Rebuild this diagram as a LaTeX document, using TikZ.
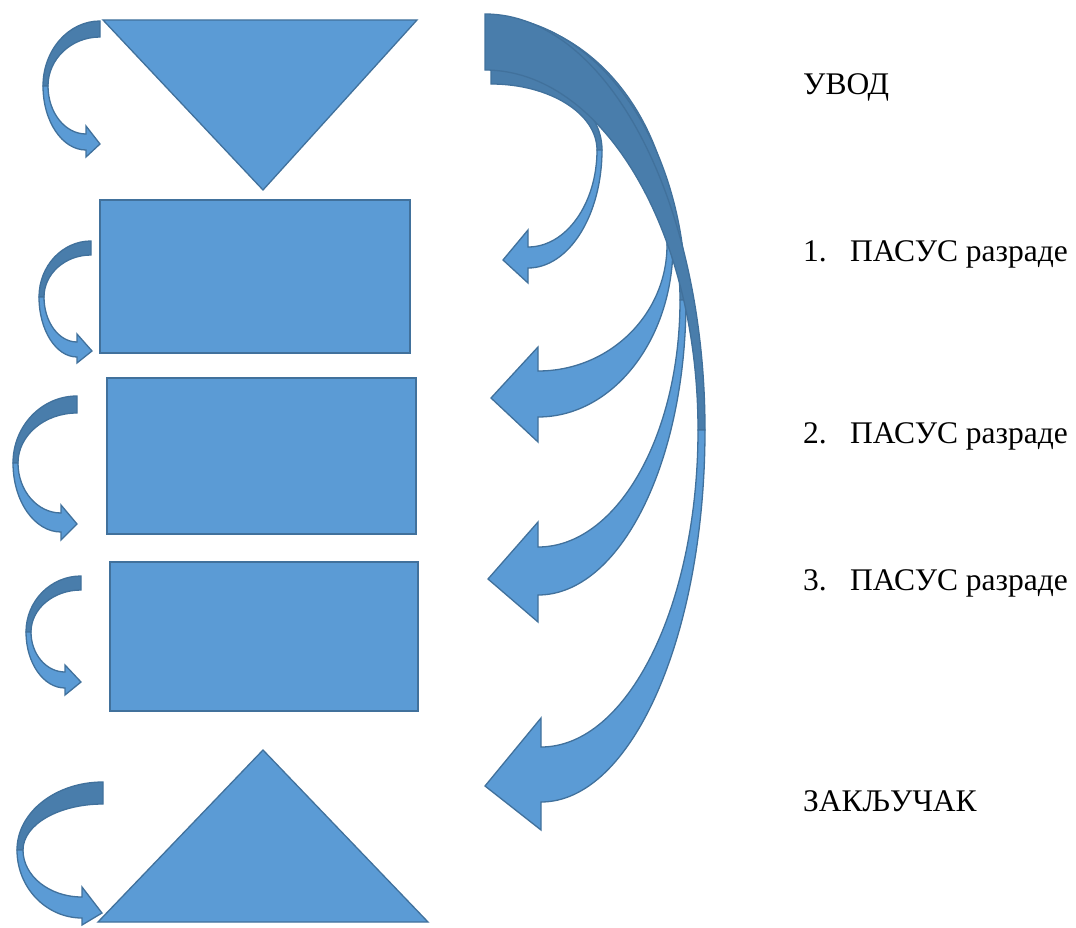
\documentclass[tikz,border=0pt]{standalone}
\usepackage{fontspec}
\setmainfont{Liberation Serif}
\definecolor{fillblue}{HTML}{5B9BD5}
\definecolor{backblue}{HTML}{497DAB}
\definecolor{edgeblue}{HTML}{41719C}
\tikzset{
  shapefill/.style={fill=fillblue,draw=edgeblue,line width=1.3pt},
  backfill/.style={fill=backblue,draw=edgeblue,line width=1.3pt},
  frontfill/.style={fill=fillblue,draw=edgeblue,line width=1.3pt},
  captxt/.style={anchor=base west,inner sep=0pt,font=\fontsize{31.5}{36}\selectfont}
}
% quarter ellipse: horizontal tangent at start, vertical tangent at end
\newcommand\qh[4]{.. controls ({#1+0.5523*(#3-#1)},#2) and (#3,{#4+0.5523*(#2-#4)}) .. (#3,#4)}
% quarter ellipse: vertical tangent at start, horizontal tangent at end
\newcommand\qv[4]{.. controls (#1,{#2+0.5523*(#4-#2)}) and ({#3+0.5523*(#1-#3)},#4) .. (#3,#4)}
\def\cvset#1/#2/#3/#4/#5/#6/#7/#8/#9/{\def\cvxe{#1}\def\cvtop{#2}\def\cvend{#3}\def\cvxr{#4}\def\cvym{#5}\def\cvxi{#6}\def\cvxn{#7}\def\cvyct{#8}\def\cvynt{#9}\cvsetb}
\def\cvsetb#1/#2/#3/#4/{\def\cvynb{#1}\def\cvycb{#2}\def\cvtx{#3}\def\cvty{#4}}
\newcommand\cvarrow[1]{\cvset#1/%
  \draw[backfill] (\cvxe,\cvtop) \qh{\cvxe}{\cvtop}{\cvxr}{\cvym} -- (\cvxi,\cvym) \qv{\cvxi}{\cvym}{\cvxe}{\cvend} -- cycle;
  \draw[frontfill] (\cvxr,\cvym) \qv{\cvxr}{\cvym}{\cvxn}{\cvynb} -- (\cvxn,\cvycb) -- (\cvtx,\cvty) -- (\cvxn,\cvyct) -- (\cvxn,\cvynt) \qh{\cvxn}{\cvynt}{\cvxi}{\cvym} -- cycle;
}
\begin{document}
\begin{tikzpicture}[x=1pt,y=-1pt]
\useasboundingbox (0,0) rectangle (1076,928);
% left column shapes
\draw[shapefill] (103,20) -- (417,20) -- (263,190) -- cycle;
\draw[shapefill] (100,200) rectangle (410,353);
\draw[shapefill] (107,378) rectangle (416,534);
\draw[shapefill] (110,562) rectangle (418,711);
\draw[shapefill] (98,922) -- (428,922) -- (263,750) -- cycle;
% small curved arrows on the left
\cvarrow{100/21/37/43/86/48/86/126/134/150/157/100/144}
\cvarrow{91/241/255/39/297/44/77/334/342/357/363/92/351}
\cvarrow{77/396/413/13/463/18/61/505/513/532/540/77/524}
\cvarrow{81/576/590/26/632/31/65/665/672/688/695/81/682}
\cvarrow{103/782/804/17/850/23/82/887/897/918/925/102/913}
% large curved arrows on the right
\cvarrow{491/70/84/602/150/597/528/230/247/268/283/503/260}
\cvarrow{487/18/60/673/245/667/538/347/371/417/442/491/398}
\cvarrow{486/16/66/686/300/680/538/522/547/595/622/488/579}
\cvarrow{485/14/70/705/430/698/541/718/747/802/830/485/786}
% labels
\node[captxt] (uvod) at (803,95) {УВОД};
\node[captxt] (p1) at (803,261) {\makebox[47pt][l]{1.}ПАСУС разраде};
\node[captxt] (p2) at (803,443) {\makebox[47pt][l]{2.}ПАСУС разраде};
\node[captxt] (p3) at (803,590) {\makebox[47pt][l]{3.}ПАСУС разраде};
\node[captxt] (zak) at (803,811) {ЗАКЉУЧАК};
\end{tikzpicture}
\end{document}
